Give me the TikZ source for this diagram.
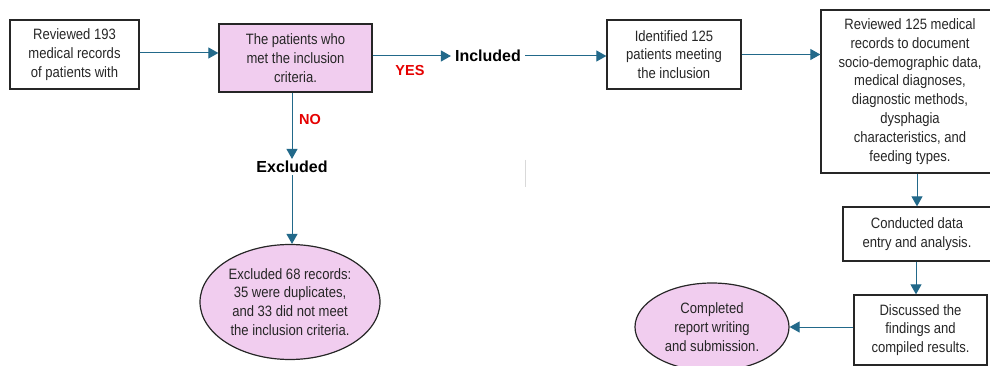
\documentclass[tikz,border=0pt]{standalone}
\usepackage{fontspec}
\setmainfont{Liberation Sans}[FakeStretch=0.87]
\newfontfamily\labelfont{Liberation Sans}
\usetikzlibrary{arrows.meta,shapes.geometric}
\definecolor{pinkfill}{HTML}{F1CDEF}
\definecolor{arrowc}{HTML}{22698A}
\definecolor{txt}{HTML}{262626}
\tikzset{
  box/.style={draw=black!85, line width=1.3pt, rectangle, align=center, text=txt,
    font=\fontsize{15}{18.8}\selectfont, inner sep=0pt},
  pinkbox/.style={box, fill=pinkfill},
  oval/.style={draw=black!85, line width=1.2pt, ellipse, fill=pinkfill, align=center, text=txt,
    font=\fontsize{15}{18.8}\selectfont, inner sep=0pt},
  biglabel/.style={font=\labelfont\fontsize{16}{18}\selectfont\bfseries, text=black, inner sep=4pt},
  yesno/.style={font=\labelfont\fontsize{14.5}{16}\selectfont\bfseries, text=red!90!black, inner sep=0pt},
  conn/.style={draw=arrowc, line width=1pt, -{Triangle[length=10pt,width=11pt]}}
}
\begin{document}
\begin{tikzpicture}[x=1pt,y=-1pt]
\useasboundingbox (0,0) rectangle (990,366);
\clip (0,0) rectangle (990,366);
\node[box, minimum width=129pt, minimum height=69pt] (b1) at (74.5,54.5) {Reviewed 193\\medical records\\of patients with};
\node[pinkbox, minimum width=153pt, minimum height=68pt] (b2) at (295.5,58) {The patients who\\met the inclusion\\criteria.};
\node[biglabel] (incl) at (488,56) {Included};
\node[yesno] (yes) at (410,71) {YES};
\node[yesno] (no) at (310,120) {NO};
\node[biglabel] (excl) at (292,167) {Excluded};
\node[oval, minimum width=180pt, minimum height=115pt] (e1) at (290,302) {Excluded 68 records:\\35 were duplicates,\\and 33 did not meet\\the inclusion criteria.};
\node[box, minimum width=134pt, minimum height=69pt] (b3) at (674,54.5) {Identified 125\\patients meeting\\the inclusion};
\node[box, minimum width=178pt, minimum height=163pt] (b4) at (910,91.5) {Reviewed 125 medical\\records to document\\socio-demographic data,\\medical diagnoses,\\diagnostic methods,\\dysphagia\\characteristics, and\\feeding types.};
\node[box, minimum width=148pt, minimum height=54pt] (b5) at (917,234) {Conducted data\\entry and analysis.};
\node[box, minimum width=133pt, minimum height=70pt] (b6) at (920.5,330) {Discussed the\\findings and\\compiled results.};
\node[oval, minimum width=154pt, minimum height=88pt] (e2) at (712,327) {Completed\\report writing\\and submission.};
\coordinate (s1) at (525,160);
\coordinate (s2) at (525,187);
\draw[black!15, line width=0.8pt] (s1) -- (s2);
\draw[conn] (b1.east |- 0,53) -- (b2.west |- 0,53);
\draw[conn] (b2.east |- incl.west) -- (incl.west);
\draw[conn] (b2.south -| excl.north) -- ([yshift=-2pt]excl.north);
\draw[conn] ([yshift=2pt]excl.south) -- (excl.south |- e1.north);
\draw[conn] (incl.east) -- (b3.west |- incl.east);
\draw[conn] (b3.east) -- (b4.west |- b3.east);
\draw[conn] (b4.south -| b5.north) -- (b5.north);
\draw[conn] (b5.south -| 916,0) -- (b6.north -| 916,0);
\draw[conn] (b6.west |- e2.east) -- (e2.east);
\end{tikzpicture}
\end{document}
